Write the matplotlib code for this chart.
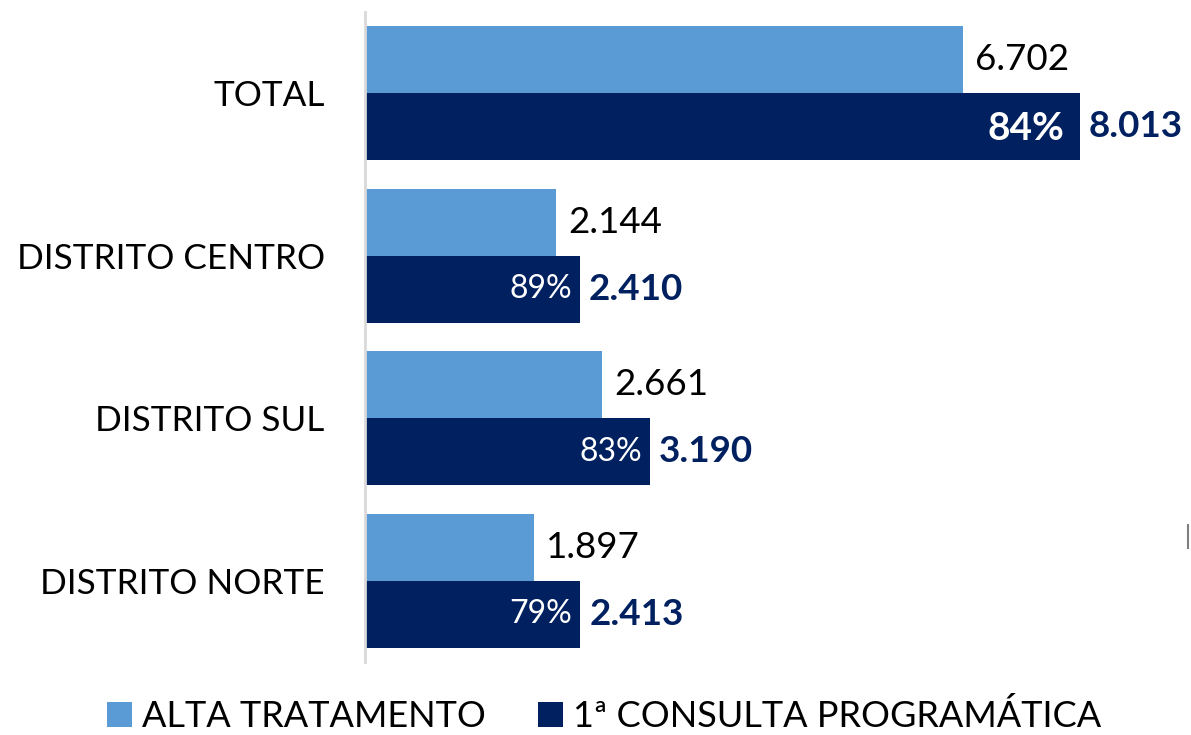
import matplotlib.pyplot as plt
from matplotlib.lines import Line2D

plt.rcParams["font.family"] = ["Lato", "DejaVu Sans"]

categories = ["TOTAL", "DISTRITO CENTRO", "DISTRITO SUL", "DISTRITO NORTE"]
alta = [6702, 2144, 2661, 1897]
consulta = [8013, 2410, 3190, 2413]
pct = ["84%", "89%", "83%", "79%"]
legend_labels = ["ALTA TRATAMENTO", "1ª CONSULTA PROGRAMÁTICA"]

LIGHT = "#5B9BD5"
DARK = "#002060"


def fmt(v):
    return f"{v:,}".replace(",", ".")


fig = plt.figure(figsize=(11.91, 7.35), dpi=100)
ax = fig.add_axes([365 / 1191, 73 / 735, 785 / 1191, 650 / 735])

h = 0.413
ys = list(range(len(categories)))
ax.barh([y - h / 2 for y in ys], alta, height=h, color=LIGHT, label=legend_labels[0])
ax.barh([y + h / 2 for y in ys], consulta, height=h, color=DARK, label=legend_labels[1])

ax.set_xlim(0, 8797)
ax.set_ylim(3.5, -0.5)

for i, y in enumerate(ys):
    ax.annotate(fmt(alta[i]), (alta[i], y - h / 2), xytext=(12, 0), textcoords="offset pixels",
                va="center", ha="left", fontsize=26.5, color="black")
    ax.annotate(fmt(consulta[i]), (consulta[i], y + h / 2), xytext=(9, 0), textcoords="offset pixels",
                va="center", ha="left", fontsize=26.5, color=DARK, fontweight="bold")
    if i == 0:
        ax.annotate(pct[i], (consulta[i], y + h / 2), xytext=(-16, -2), textcoords="offset pixels",
                    va="center", ha="right", fontsize=28, color="white", fontweight="bold")
    else:
        ax.annotate(pct[i], (consulta[i], y + h / 2), xytext=(-8, 0), textcoords="offset pixels",
                    va="center", ha="right", fontsize=23, color="white")

ax.set_yticks(ys)
ax.set_yticklabels(categories, fontsize=25.3)
ax.tick_params(axis="y", length=0, pad=29)
ax.set_xticks([])
for s in ["top", "right", "bottom"]:
    ax.spines[s].set_visible(False)
ax.spines["left"].set_color("#D9D9D9")
ax.spines["left"].set_linewidth(2)

fig.legend(loc="center", bbox_to_anchor=(0.507, 19 / 735), ncol=2, frameon=False,
           fontsize=26, handlelength=0.69, handleheight=0.69, handletextpad=0.28,
           columnspacing=1.44, borderpad=0)

fig.add_artist(Line2D([1188 / 1191, 1188 / 1191], [1 - 525 / 735, 1 - 548 / 735],
                      color="#7F7F7F", lw=1.5))

fig.savefig("out.png", dpi=100)
